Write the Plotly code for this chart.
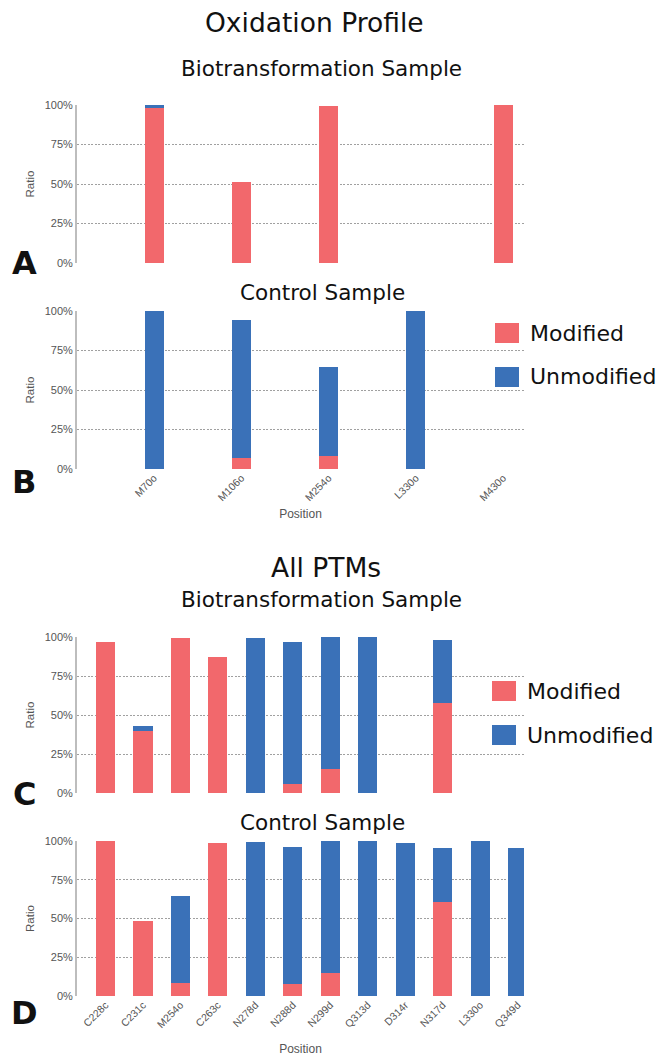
import plotly.graph_objects as go

# ---------------- data ----------------
ox_positions = ["M70o", "M106o", "M254o", "L330o", "M430o"]
ox_bio_modified = [98, 51, 99.5, 0, 100]
ox_bio_unmodified = [2, 0, 0, 0, 0]
ox_ctrl_modified = [0, 7, 8.2, 0, 0]
ox_ctrl_unmodified = [100, 87.5, 56.6, 100, 0]

ptm_positions = ["C228c", "C231c", "M254o", "C263c", "N278d", "N288d",
                 "N299d", "Q313d", "D314r", "N317d", "L330o", "Q349d"]
ptm_bio_modified = [97, 40, 99.5, 87, 0, 6, 15.7, 0, 0, 58, 0, 0]
ptm_bio_unmodified = [0, 3, 0, 0, 99.6, 90.8, 84.3, 100, 0, 40, 0, 0]
ptm_ctrl_modified = [100, 48.5, 8.2, 98.7, 0, 7.7, 15, 0, 0, 60.7, 0, 0]
ptm_ctrl_unmodified = [0, 0, 56.4, 0, 99.4, 88.7, 85, 100, 98.7, 35, 100, 95.7]

y_tick_values = [0, 25, 50, 75, 100]
y_tick_labels = ["0%", "25%", "50%", "75%", "100%"]
series_names = ["Modified", "Unmodified"]

# ---------------- style ----------------
# The page body has an 8px default margin, so the figure is drawn 8px
# smaller and all reference pixel positions are shifted by that offset.
PAGE_W, PAGE_H = 665, 1064
OFF = 8
W, H = PAGE_W - OFF, PAGE_H - OFF
MOD_COLOR = "#F2686C"
UNMOD_COLOR = "#3A71B8"
colors = [MOD_COLOR, UNMOD_COLOR]
TITLE_FONT = "DejaVu Sans, sans-serif"
AXIS_FONT = "Liberation Sans, Arial, sans-serif"


def px_x(x):
    return (x - OFF) / W


def px_y(y):
    return 1 - (y - OFF) / H


x_left, x_right = px_x(77), px_x(524)

panels = [
    # cats, modified, unmodified, (top, bottom) px, x range, bar width, x labels, title standoff
    (ox_positions, ox_bio_modified, ox_bio_unmodified, (105, 263), [-0.883, 4.24], 0.218, False, 4),
    (ox_positions, ox_ctrl_modified, ox_ctrl_unmodified, (311, 469), [-0.883, 4.24], 0.218, True, 7),
    (ptm_positions, ptm_bio_modified, ptm_bio_unmodified, (637, 793), [-0.76, 11.17], 0.51, False, 4),
    (ptm_positions, ptm_ctrl_modified, ptm_ctrl_unmodified, (841, 996), [-0.76, 11.17], 0.51, True, 15),
]

fig = go.Figure()
layout_axes = {}
for i, (cats, mod, unmod, (ytop, ybot), xr, bw, showx, sto) in enumerate(panels):
    n = i + 1
    xa = "x" if n == 1 else f"x{n}"
    ya = "y" if n == 1 else f"y{n}"
    for name, vals, col in zip(series_names, [mod, unmod], colors):
        fig.add_trace(go.Bar(
            x=cats, y=vals, name=name, xaxis=xa, yaxis=ya,
            marker=dict(color=col, line=dict(width=0)),
            width=bw, showlegend=False,
        ))
    xkey = "xaxis" if n == 1 else f"xaxis{n}"
    ykey = "yaxis" if n == 1 else f"yaxis{n}"
    layout_axes[xkey] = dict(
        domain=[x_left, x_right], anchor=ya, type="category",
        categoryorder="array", categoryarray=cats, automargin=False,
        range=xr, showgrid=False, showline=False, zeroline=False,
        showticklabels=showx, tickangle=-45, ticks="",
        tickfont=dict(family=AXIS_FONT, size=10.5, color="#555"),
        title=dict(text="Position" if showx else "",
                   font=dict(family=AXIS_FONT, size=12, color="#555"),
                   standoff=sto),
    )
    layout_axes[ykey] = dict(
        domain=[px_y(ybot), px_y(ytop)], anchor=xa, range=[0, 100], automargin=False,
        tickmode="array", tickvals=y_tick_values, ticktext=y_tick_labels,
        showgrid=True, gridcolor="#a0a0a0", griddash="2px,1.5px", gridwidth=1,
        zeroline=False, showline=True, linecolor="#bdbdbd", linewidth=2,
        ticks="", tickfont=dict(family=AXIS_FONT, size=11, color="#555"),
        title=dict(text="Ratio", font=dict(family=AXIS_FONT, size=11.5, color="#555"),
                   standoff=8),
    )

fig.update_layout(
    width=W, height=H, barmode="stack", bargap=0,
    margin=dict(l=0, r=0, t=0, b=0, autoexpand=False),
    paper_bgcolor="white", plot_bgcolor="white",
    showlegend=False,
    **layout_axes,
)

annotations = []


def text(t, x_px, y_px, size, bold=False, family=TITLE_FONT, xanchor="center"):
    annotations.append(dict(
        text=f"<b>{t}</b>" if bold else t, x=px_x(x_px), y=px_y(y_px),
        xref="paper", yref="paper", xanchor=xanchor, yanchor="middle",
        showarrow=False, font=dict(family=family, size=size, color="#111"),
    ))


text("Oxidation Profile", 314, 23, 26.5)
text("Biotransformation Sample", 321, 69, 21.5)
text("Control Sample", 322, 292, 21.5)
text("All PTMs", 326, 567, 26.5)
text("Biotransformation Sample", 321, 599, 21.5)
text("Control Sample", 322, 822, 21.5)

for letter, yp in zip(["A", "B", "C", "D"], [263, 482, 794, 1013]):
    text(letter, 24, yp, 32, bold=True, family="DejaVu Sans, sans-serif")

# legends (swatches + labels)
shapes = []
for (sx, ys) in [(495, [333, 377]), (492, [691, 735])]:
    for name, col, yc in zip(series_names, colors, ys):
        shapes.append(dict(type="rect", xref="paper", yref="paper",
                           x0=px_x(sx), x1=px_x(sx + 24),
                           y0=px_y(yc + 10), y1=px_y(yc - 10),
                           fillcolor=col, line=dict(width=0)))
        text(name, sx + 33, yc, 22, xanchor="left")

fig.update_layout(annotations=annotations, shapes=shapes)
fig.write_html("out.html")
